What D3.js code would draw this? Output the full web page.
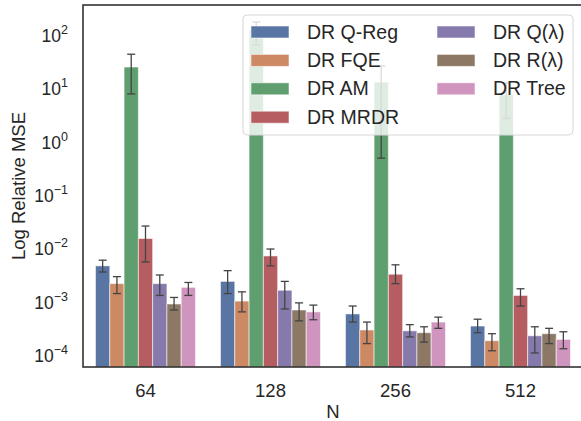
<!DOCTYPE html>
<html>
<head>
<meta charset="utf-8">
<script src="https://cdnjs.cloudflare.com/ajax/libs/d3/7.8.5/d3.min.js"></script>
<style>
body { margin: 0; background: #fff; }
text { font-family: "Liberation Sans", Arial, sans-serif; fill: #262626; }
</style>
</head>
<body>
<div id="chart"></div>
<script>
// categories and series
var groups = ["64", "128", "256", "512"];
var seriesNames = ["DR Q-Reg", "DR FQE", "DR AM", "DR MRDR", "DR Q(\u03bb)", "DR R(\u03bb)", "DR Tree"];
var colors = ["#5975a4", "#cc8963", "#5f9e6e", "#b55d60", "#857aab", "#8d7866", "#d095bf"];

// bar heights (mean relative MSE), one array per series, ordered like groups
var qReg  = [4.3e-3, 2.2e-3, 5.4e-4, 3.2e-4];
var fqe   = [2.0e-3, 9.4e-4, 2.7e-4, 1.7e-4];
var am    = [23, 114, 12, 6.9];
var mrdr  = [1.4e-2, 6.6e-3, 3.0e-3, 1.2e-3];
var qLam  = [2.0e-3, 1.5e-3, 2.6e-4, 2.1e-4];
var rLam  = [8.3e-4, 6.4e-4, 2.4e-4, 2.3e-4];
var tree  = [1.7e-3, 5.9e-4, 3.8e-4, 1.8e-4];

// error bar bounds
var qRegLo = [3.3e-3, 1.3e-3, 3.8e-4, 2.4e-4], qRegHi = [5.5e-3, 3.5e-3, 7.6e-4, 4.3e-4];
var fqeLo  = [1.3e-3, 5.9e-4, 1.5e-4, 1.1e-4], fqeHi  = [2.7e-3, 1.4e-3, 3.8e-4, 2.3e-4];
var amLo   = [7.2, 60, 0.45, 2.5],             amHi   = [40, 161, 24, 11.6];
var mrdrLo = [5.1e-3, 4.3e-3, 2.0e-3, 7.6e-4], mrdrHi = [2.4e-2, 8.9e-3, 4.5e-3, 1.6e-3];
var qLamLo = [1.2e-3, 6.7e-4, 2.0e-4, 1.0e-4], qLamHi = [2.9e-3, 2.2e-3, 3.4e-4, 3.1e-4];
var rLamLo = [6.4e-4, 4.0e-4, 1.6e-4, 1.5e-4], rLamHi = [1.1e-3, 8.7e-4, 3.1e-4, 2.9e-4];
var treeLo = [1.2e-3, 4.2e-4, 2.9e-4, 1.2e-4], treeHi = [2.1e-3, 7.9e-4, 4.7e-4, 2.5e-4];

var yTicks = [1e-4, 1e-3, 1e-2, 1e-1, 1e0, 1e1, 1e2];
var yDomain = [5.46e-5, 335];

var means = [qReg, fqe, am, mrdr, qLam, rLam, tree];
var lows  = [qRegLo, fqeLo, amLo, mrdrLo, qLamLo, rLamLo, treeLo];
var highs = [qRegHi, fqeHi, amHi, mrdrHi, qLamHi, rLamHi, treeHi];

var W = 581, H = 421;
var padL = 83, padT = 5, plotW = 500, plotB = 367;

var svg = d3.select("#chart").append("svg")
    .attr("width", W).attr("height", H);

var x0 = d3.scaleBand().domain(groups).range([padL, padL + plotW])
    .paddingInner(0.2).paddingOuter(0.1);
var x1 = d3.scaleBand().domain(seriesNames).range([0, x0.bandwidth()]);
var y = d3.scaleLog().domain(yDomain).range([plotB, padT]);

// flat records for the bars
var rows = [];
groups.forEach(function(g, gi) {
  seriesNames.forEach(function(s, si) {
    rows.push({g: g, s: s, si: si, v: means[si][gi], lo: lows[si][gi], hi: highs[si][gi]});
  });
});

var bars = svg.append("g");
bars.selectAll("rect").data(rows).enter().append("rect")
    .attr("x", function(d) { return x0(d.g) + x1(d.s); })
    .attr("y", function(d) { return y(d.v); })
    .attr("width", x1.bandwidth())
    .attr("height", function(d) { return plotB - y(d.v); })
    .style("fill", function(d) { return colors[d.si]; })
    .style("stroke", "rgba(255,255,255,0.55)")
    .style("stroke-width", 1);

// error bars
var cap = 4;
var errs = svg.append("g").style("stroke", "#444").style("stroke-width", 1.3).style("fill", "none");
rows.forEach(function(d) {
  var cx = x0(d.g) + x1(d.s) + x1.bandwidth() / 2;
  var yl = y(d.lo), yh = y(d.hi);
  errs.append("line").attr("x1", cx).attr("x2", cx).attr("y1", yl).attr("y2", yh);
  errs.append("line").attr("x1", cx - cap).attr("x2", cx + cap).attr("y1", yl).attr("y2", yl);
  errs.append("line").attr("x1", cx - cap).attr("x2", cx + cap).attr("y1", yh).attr("y2", yh);
});

// frame
svg.append("rect")
    .attr("x", padL).attr("y", padT)
    .attr("width", plotW).attr("height", plotB - padT)
    .style("fill", "none").style("stroke", "#262626").style("stroke-width", 1.5);

// x tick labels
svg.append("g").selectAll("text").data(groups).enter().append("text")
    .attr("x", function(d) { return x0(d) + x0.bandwidth() / 2; })
    .attr("y", 397)
    .attr("text-anchor", "middle")
    .style("font-size", "18.5px")
    .text(function(d) { return d; });

svg.append("text")
    .attr("x", padL + plotW / 2).attr("y", 418)
    .attr("text-anchor", "middle")
    .style("font-size", "18.5px")
    .text("N");

// y tick labels as 10^k
var ytl = svg.append("g").selectAll("text").data(yTicks).enter().append("text")
    .attr("x", 68)
    .attr("y", function(d) { return y(d) + 9; })
    .attr("text-anchor", "end")
    .style("font-size", "17.5px");
ytl.append("tspan").text("10");
ytl.append("tspan")
    .attr("dy", -8)
    .style("font-size", "12.5px")
    .text(function(d) { var e = Math.round(Math.log10(d)); return e < 0 ? "\u2212" + (-e) : e; });

svg.append("text")
    .attr("transform", "translate(25," + ((padT + plotB) / 2) + ") rotate(-90)")
    .attr("text-anchor", "middle")
    .style("font-size", "18.5px")
    .text("Log Relative MSE");

// legend
var lg = svg.append("g");
lg.append("rect")
    .attr("x", 243).attr("y", 15).attr("width", 330).attr("height", 120)
    .attr("rx", 4)
    .style("fill", "rgba(255,255,255,0.8)")
    .style("stroke", "#d6d6d6").style("stroke-width", 1);

var items = lg.selectAll("g.item").data(seriesNames).enter().append("g")
    .attr("class", "item")
    .attr("transform", function(d, i) {
      var col = i < 4 ? 0 : 1, row = i < 4 ? i : i - 4;
      return "translate(" + (col ? 437 : 251) + "," + (32 + row * 28.4) + ")";
    });
items.append("rect")
    .attr("x", 0).attr("y", -6).attr("width", 38).attr("height", 12)
    .style("fill", function(d, i) { return colors[i]; })
    .style("stroke", "rgba(255,255,255,0.55)");
items.append("text")
    .attr("x", 56).attr("y", 6.5)
    .style("font-size", "19.5px")
    .text(function(d) { return d; });
</script>
</body>
</html>
